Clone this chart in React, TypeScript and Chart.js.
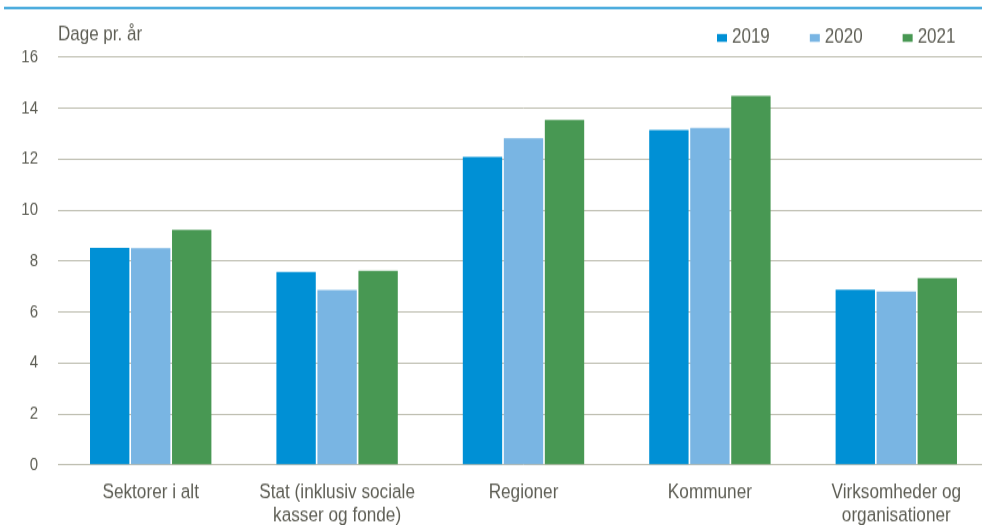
import React, { useEffect, useRef } from "react";
import { Chart, registerables } from "chart.js";

Chart.register(...registerables);

const categories: (string | string[])[] = [
  "Sektorer i alt",
  ["Stat (inklusiv sociale", "kasser og fonde)"],
  "Regioner",
  "Kommuner",
  ["Virksomheder og", "organisationer"],
];
const seriesLabels = ["2019", "2020", "2021"];
const values2019 = [8.52, 7.57, 12.08, 13.14, 6.88];
const values2020 = [8.5, 6.86, 12.81, 13.22, 6.8];
const values2021 = [9.22, 7.62, 13.53, 14.48, 7.33];
const colors = ["#0090d5", "#79b5e3", "#489853"];
const yTitle = "Dage pr. år";

const FONT = "'Liberation Sans', Arial, sans-serif";
const TEXT = "#5e5e55";
const VIEW_W = 982;
const W = 990; // plot continues slightly past the visible edge, as in the reference
const H = 430;
const SY = 525 / H; // vertical stretch of the reference typography
const v = (y: number) => y / SY; // reference px -> internal px

const decor = {
  id: "decor",
  afterDraw(chart: any) {
    const ctx = chart.ctx as CanvasRenderingContext2D;
    ctx.save();
    ctx.fillStyle = "#0a8dd0";
    ctx.fillRect(4, v(7), 990, v(9) - v(7));
    ctx.fillStyle = TEXT;
    ctx.font = `17px ${FONT}`;
    ctx.textBaseline = "alphabetic";
    ctx.textAlign = "left";
    ctx.fillText(yTitle, 58, v(40.7));
    ctx.font = `17px ${FONT}`;
    let x = 717;
    chart.data.datasets.forEach((ds: any) => {
      ctx.fillStyle = ds.backgroundColor;
      ctx.fillRect(x, v(34), 10, v(41.8) - v(34));
      ctx.fillStyle = TEXT;
      ctx.fillText(ds.label, x + 15, v(43.3));
      const w = ctx.measureText(ds.label).width;
      x += 15 + w + 40;
    });
    ctx.restore();
  },
};

export default function App() {
  const ref = useRef<HTMLCanvasElement>(null);
  useEffect(() => {
    document.body.style.margin = "0";
    const data = [values2019, values2020, values2021];
    const chart = new Chart(ref.current!, {
      type: "bar",
      data: {
        labels: categories,
        datasets: seriesLabels.map((l, i) => ({
          label: l,
          data: data[i],
          backgroundColor: colors[i],
          borderWidth: 0,
          barPercentage: 0.96,
          categoryPercentage: 0.66,
        })),
      },
      options: {
        animation: false,
        responsive: false,
        maintainAspectRatio: false,
        devicePixelRatio: 1,
        layout: { padding: { top: v(57), right: 0.5, left: 0, bottom: 0 } },
        plugins: { legend: { display: false }, tooltip: { enabled: false }, title: { display: false } },
        scales: {
          x: {
            grid: { display: false, drawTicks: false },
            border: { display: false },
            ticks: {
              color: TEXT,
              font: { family: FONT, size: 17.2, lineHeight: 1.1 },
              padding: 13,
              maxRotation: 0,
              autoSkip: false,
            },
            afterFit: (s: any) => {
              s.height = H - v(465);
            },
          },
          y: {
            min: 0,
            max: 16,
            grid: { color: "#bcbcae", lineWidth: 1, drawTicks: false },
            border: { display: false },
            ticks: {
              stepSize: 2,
              color: TEXT,
              font: { family: FONT, size: 15 },
              padding: 19.5,
            },
            afterFit: (s: any) => {
              s.width = 57.5;
            },
          },
        },
      },
      plugins: [decor],
    });
    return () => chart.destroy();
  }, []);
  return (
    <div style={{ width: VIEW_W, height: 525, background: "#fff", overflow: "hidden" }}>
      <div style={{ width: W, height: H, transform: `scaleY(${SY})`, transformOrigin: "0 0" }}>
        <canvas ref={ref} width={W} height={H} style={{ display: "block", width: W, height: H }} />
      </div>
    </div>
  );
}
